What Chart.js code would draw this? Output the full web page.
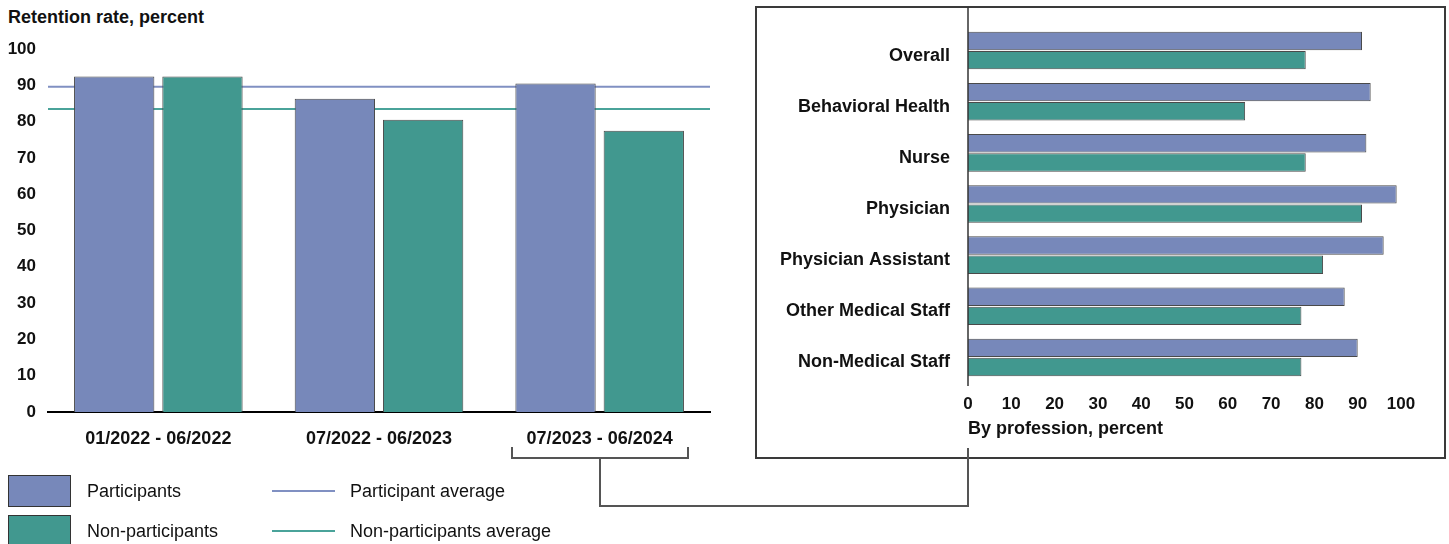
<!DOCTYPE html>
<html>
<head>
<meta charset="utf-8">
<script src="https://cdn.jsdelivr.net/npm/chart.js@4.4.1/dist/chart.umd.min.js"></script>
<style>
  body { margin: 0; background: #fff; font-family: "Liberation Sans", Arial, sans-serif; }
  #page { position: relative; width: 1449px; height: 544px; overflow: hidden; }
  .abs { position: absolute; }
  .title { left: 8px; top: 7px; font-size: 18px; font-weight: bold; color: #111; }
  .box { left: 755px; top: 6px; width: 687px; height: 449px; border: 2px solid #3a3a3a; }
  .ln { background: #555; }
  .swatch { width: 61px; height: 30px; border: 1.5px solid #333; }
  .legtxt { font-size: 18px; color: #111; }
  .legline { width: 63px; height: 2px; }
</style>
</head>
<body>
<div id="page">
  <div class="abs title">Retention rate, percent</div>
  <div class="abs box"></div>
  <canvas id="left" class="abs" style="left:0;top:0;"></canvas>
  <canvas id="right" class="abs" style="left:760px;top:7px;"></canvas>

  <!-- bracket + connector -->
  <div class="abs ln" style="left:511px;top:457px;width:178px;height:1.5px;"></div>
  <div class="abs ln" style="left:511px;top:447px;width:1.5px;height:11px;"></div>
  <div class="abs ln" style="left:687px;top:447px;width:1.5px;height:11px;"></div>
  <div class="abs ln" style="left:599px;top:457px;width:1.5px;height:50px;"></div>
  <div class="abs ln" style="left:599px;top:505px;width:370px;height:1.5px;"></div>
  <div class="abs ln" style="left:967px;top:448px;width:1.5px;height:58px;"></div>

  <!-- legend -->
  <div class="abs swatch" style="left:8px;top:475px;background:#7788BA;"></div>
  <div class="abs legtxt" style="left:87px;top:481px;">Participants</div>
  <div class="abs swatch" style="left:8px;top:515px;background:#41988F;"></div>
  <div class="abs legtxt" style="left:87px;top:521px;">Non-participants</div>
  <div class="abs legline" style="left:272px;top:490px;background:#8090C2;"></div>
  <div class="abs legtxt" style="left:350px;top:481px;">Participant average</div>
  <div class="abs legline" style="left:272px;top:530px;background:#4AA39A;"></div>
  <div class="abs legtxt" style="left:350px;top:521px;">Non-participants average</div>
</div>

<script>
// period chart data
const periods = ["01/2022 - 06/2022", "07/2022 - 06/2023", "07/2023 - 06/2024"];
const participants = [92.4, 86.3, 90.5];
const nonParticipants = [92.4, 80.5, 77.5];
const participantAvg = 89.6;
const nonParticipantAvg = 83.5;

// profession chart data (07/2023 - 06/2024)
const professions = ["Overall", "Behavioral Health", "Nurse", "Physician",
  "Physician Assistant", "Other Medical Staff", "Non-Medical Staff"];
const profParticipants = [91, 93, 92, 99, 96, 87, 90];
const profNonParticipants = [78, 64, 78, 91, 82, 77, 77];

const BLUE = "#7788BA";
const TEAL = "#41988F";
const EDGE = "#4a4a4a";
const FONT = '"Liberation Sans", Arial, sans-serif';

Chart.defaults.font.family = FONT;
Chart.defaults.color = "#111";
Chart.defaults.animation = false;

// horizontal average lines, drawn under the bars
const avgLines = {
  id: "avgLines",
  beforeDatasetsDraw(chart) {
    const { ctx, chartArea, scales } = chart;
    const lines = [[participantAvg, "#8090C2"], [nonParticipantAvg, "#4AA39A"]];
    ctx.save();
    ctx.lineWidth = 2;
    lines.forEach(([v, c]) => {
      const y = scales.y.getPixelForValue(v);
      ctx.strokeStyle = c;
      ctx.beginPath();
      ctx.moveTo(chartArea.left, y);
      ctx.lineTo(chartArea.right, y);
      ctx.stroke();
    });
    ctx.restore();
  }
};

const leftCanvas = document.getElementById("left");
leftCanvas.width = 720; leftCanvas.height = 460;
new Chart(leftCanvas, {
  type: "bar",
  data: {
    labels: periods,
    datasets: [
      { label: "Participants", data: participants, backgroundColor: BLUE, borderColor: EDGE, borderWidth: 1 },
      { label: "Non-participants", data: nonParticipants, backgroundColor: TEAL, borderColor: EDGE, borderWidth: 1 }
    ]
  },
  options: {
    responsive: false,
    layout: { padding: { top: 49, right: 10, left: 0, bottom: 0 } },
    plugins: { legend: { display: false }, tooltip: { enabled: false } },
    datasets: { bar: { categoryPercentage: 0.8, barPercentage: 0.91 } },
    scales: {
      x: {
        grid: { display: false, drawTicks: false },
        border: { display: true, color: "#000", width: 2 },
        ticks: { font: { size: 18, weight: "bold" }, padding: 16, color: "#111" },
        afterFit: s => { s.height = 48; }
      },
      y: {
        min: 0, max: 100,
        grid: { display: false, drawTicks: false },
        border: { display: false },
        ticks: { stepSize: 10, font: { size: 17, weight: "bold" }, padding: 12, color: "#111" },
        afterFit: s => { s.width = 48; }
      }
    }
  },
  plugins: [avgLines]
});

// y axis line of the profession chart runs up to the box top
const axisExtend = {
  id: "axisExtend",
  afterDatasetsDraw(chart) {
    const { ctx, chartArea } = chart;
    ctx.save();
    ctx.strokeStyle = "#333";
    ctx.lineWidth = 1.5;
    ctx.beginPath();
    ctx.moveTo(chartArea.left, 0);
    ctx.lineTo(chartArea.left, chartArea.bottom + 3);
    ctx.stroke();
    ctx.restore();
  }
};

const rightCanvas = document.getElementById("right");
rightCanvas.width = 680; rightCanvas.height = 440;
new Chart(rightCanvas, {
  type: "bar",
  data: {
    labels: professions,
    datasets: [
      { label: "Participants", data: profParticipants, backgroundColor: BLUE, borderColor: EDGE, borderWidth: 1 },
      { label: "Non-participants", data: profNonParticipants, backgroundColor: TEAL, borderColor: EDGE, borderWidth: 1 }
    ]
  },
  options: {
    indexAxis: "y",
    responsive: false,
    layout: { padding: { top: 18, right: 39, left: 0, bottom: 0 } },
    plugins: { legend: { display: false }, tooltip: { enabled: false } },
    datasets: { bar: { categoryPercentage: 0.75, barPercentage: 0.96 } },
    scales: {
      x: {
        min: 0, max: 100,
        grid: { display: false, drawTicks: false },
        border: { display: false },
        ticks: { stepSize: 10, font: { size: 17, weight: "bold" }, padding: 11, color: "#111" },
        title: {
          display: true, text: "By profession, percent", align: "start",
          font: { size: 18, weight: "bold" }, color: "#111", padding: { top: 0, bottom: 7 }
        },
        afterFit: s => { s.height = 64; s.paddingLeft = 0; s.paddingRight = 0; }
      },
      y: {
        grid: { display: false, drawTicks: false },
        border: { display: false },
        ticks: { font: { size: 18, weight: "bold" }, padding: 18, labelOffset: 5, color: "#111" },
        afterFit: s => { s.width = 208; s.paddingTop = 0; s.paddingBottom = 0; }
      }
    }
  },
  plugins: [axisExtend]
});
</script>
</body>
</html>
